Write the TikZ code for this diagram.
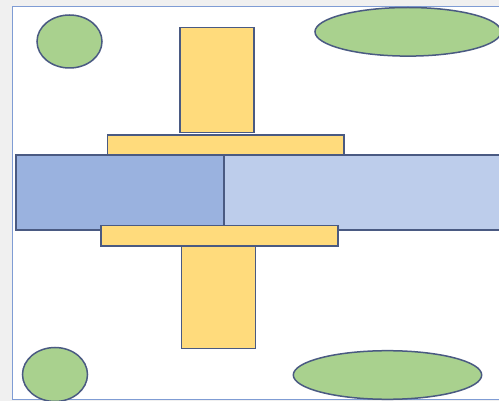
\documentclass[tikz,border=0pt]{standalone}
\usetikzlibrary{shapes.geometric}
\definecolor{bggray}{HTML}{F0F0F0}
\definecolor{framecol}{HTML}{7F9CD4}
\definecolor{edgecol}{HTML}{4A5A82}
\definecolor{ygold}{HTML}{FFDB7C}
\definecolor{gleaf}{HTML}{A9D18E}
\definecolor{bdark}{HTML}{9AB2DF}
\definecolor{blight}{HTML}{BDCDEB}
\tikzset{
  shp/.style={draw=edgecol, line width=1.5pt},
  yrect/.style={shp, fill=ygold},
  brect/.style={shp},
  blob/.style={shp, fill=gleaf},
}
\begin{document}
\begin{tikzpicture}[x=1pt,y=-1pt]
\useasboundingbox (0,0) rectangle (499,401);
\clip (0,0) rectangle (499,401);
\fill[bggray] (0,0) rectangle (499,401);
\draw[framecol, fill=white, line width=1.2pt] (12.3,6.8) rectangle (510,399.3);
% blobs
\draw[blob] (69.5,41.5) ellipse [x radius=32.5, y radius=26.5];
\draw[blob] (408,31.8) ellipse [x radius=93, y radius=24.3];
\draw[blob] (55,374.5) ellipse [x radius=32.5, y radius=27];
\draw[blob] (387.5,375) ellipse [x radius=94.2, y radius=24.3];
% blue band
\draw[brect, fill=bdark] (16,155) rectangle (224,230);
\draw[brect, fill=blight] (224,155) rectangle (512,230);
% yellow parts
\draw[yrect] (180,27.3) rectangle (254,132.7);
\draw[yrect] (107.3,135) rectangle (344,155);
\draw[yrect] (101,225.7) rectangle (338,246);
\draw[yrect] (181.7,246) rectangle (255.7,348.7);
\end{tikzpicture}
\end{document}
